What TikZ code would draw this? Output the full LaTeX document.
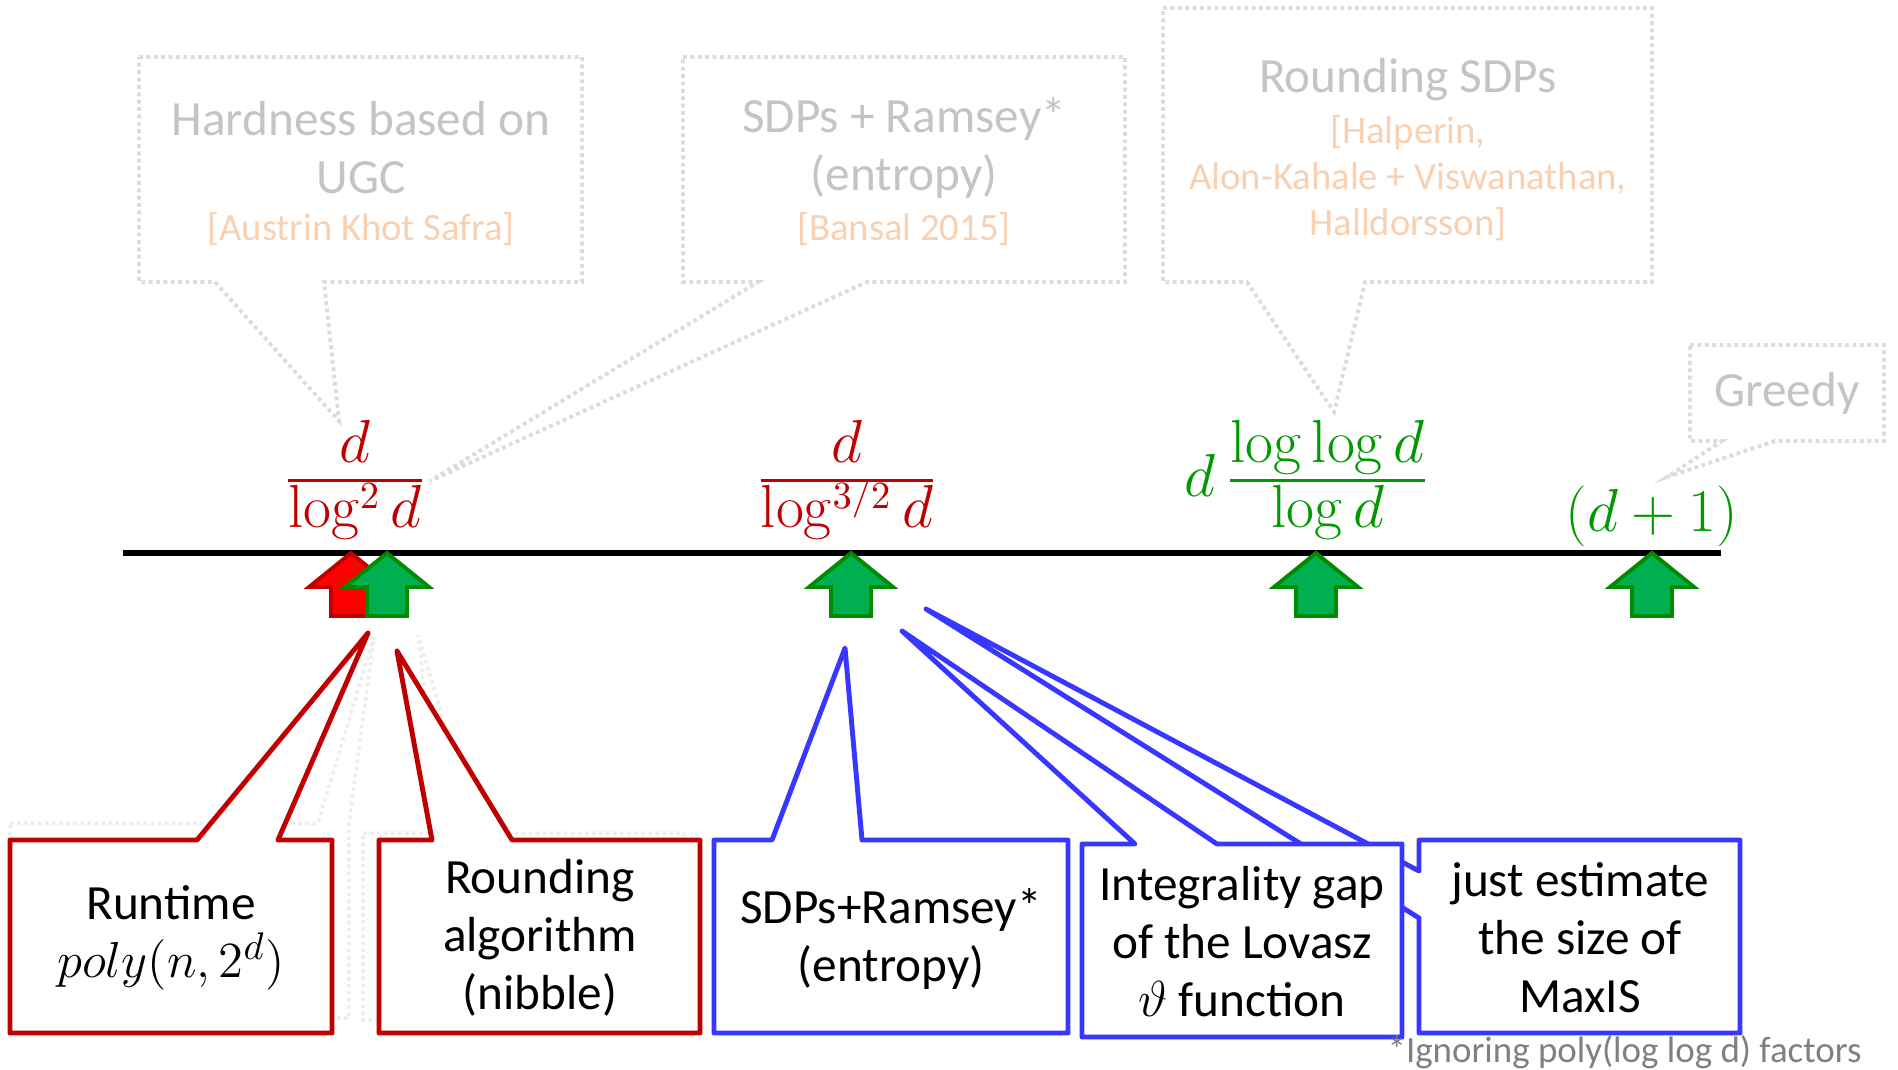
\documentclass[tikz,border=0pt]{standalone}
\usepackage[no-math]{fontspec}
\setmainfont{Carlito}
\usepackage{amsmath}
\usetikzlibrary{positioning}
\definecolor{darkred}{HTML}{C00000}
\definecolor{arrred}{HTML}{FF0000}
\definecolor{arrgreen}{HTML}{00B050}
\definecolor{mathgreen}{HTML}{009A00}
\definecolor{calblue}{HTML}{3737FF}
\definecolor{ghost}{HTML}{C4C4C4}
\definecolor{ghostcite}{HTML}{F8D0B2}
\tikzset{ %line width = 1pt,
  {red callout/.style} ={draw=darkred,fill=white,line width=1.4pt,line join=round},
  {blue callout/.style} ={red callout,draw=calblue},
  {ghost callout/.style} ={draw=ghost!60,densely dotted,line width=1.1pt},
  {faint callout/.style} ={draw=ghost!30,densely dotted,line width=1pt},
  {box text/.style} ={align=center,font=\fontsize{14}{16.5}\selectfont},
  {ghost text/.style} ={box text,text=ghost},
  {bound/.style} ={font=\fontsize{16}{19}\selectfont},
  {red up/.style} ={draw=darkred,fill=arrred,line width=1.1pt},
  {green up/.style} ={draw=mathgreen!90!black,fill=arrgreen,line width=1.1pt},
  timeline/.style ={line width=1.7pt,draw=black},
  pics/uparrow/.style ={code={
    \draw[#1] (0,0) -- (42,34) -- (20,34) -- (20,63) -- (-20,63)
      -- (-20,34) -- (-42,34) -- cycle;}},
  >=latex,
}
\newcommand{\bfrac}[2]{\genfrac{}{}{0.9pt}{1}{\raisebox{2.6pt}{$#1$}}%
  {\raisebox{0.3pt}{$\smash[t]{#2}\vphantom{\log d}$}}}
\newcommand{\lsup}[1]{\raisebox{-2.2pt}{$\scriptstyle #1$}}

\begin{document}
\begin{tikzpicture}[x=0.01cm,y=-0.01cm]
\useasboundingbox (0,0) rectangle (1898,1069);

\tikzstyle{cite} = [text=ghostcite,font=\fontsize{11}{13}\selectfont]

% faded callouts above the line
\draw[ghost callout] (139,57) -- (582,57) -- (582,282) -- (324,282)
  -- (339,421) -- (215,282) -- (139,282) -- cycle;
\node[ghost text] (hardness) at (361,148) {Hardness based on\\UGC};
\node[cite] (hardcite) at (361,229) {[Austrin Khot Safra]};

\draw[ghost callout] (683,57) -- (1125,57) -- (1125,282) -- (867,282)
  -- (430,481) -- (758,282) -- (683,282) -- cycle;
\node[ghost text] (bansal) at (904,148) {SDPs + Ramsey*\\(entropy)};
\node[cite] (bansalcite) at (904,229) {[Bansal 2015]};

\draw[ghost callout] (1163,8) -- (1652,8) -- (1652,282) -- (1365,282)
  -- (1334,412) -- (1247,282) -- (1163,282) -- cycle;
\node[ghost text] (halperin) at (1408,80) {Rounding SDPs};
\node[cite,align=center,below=-3pt of halperin] (halpcite)
  {[Halperin,\\Alon-Kahale + Viswanathan,\\Halldorsson]};

\draw[ghost callout] (1690,345) -- (1884,345) -- (1884,441) -- (1775,441)
  -- (1667,477) -- (1722,441) -- (1690,441) -- cycle;
\node[ghost text] (greedy) at (1787,393) {Greedy};

% faded callouts behind the boxes
\draw[faint callout] (10,823) -- (318,823) -- (374,637) -- (349,823)
  -- (349,1018) -- (10,1018) -- cycle;
\draw[faint callout] (363,833) -- (440,833) -- (418,635) -- (477,833)
  -- (684,833) -- (684,1020) -- (363,1020) -- cycle;

% the line and the bounds
\coordinate (tlw) at (123,553);
\coordinate (tle) at (1721,553);
\draw[timeline] (tlw) -- (tle);

\node[bound,text=darkred,anchor=base] (lbsq) at (355,496) {$\bfrac{d}{\log^{\lsup{2}} d}$};
\node[bound,text=darkred,anchor=base] (lbthree) at (847,496) {$\bfrac{d}{\log^{\lsup{3/2}} d}$};
\node[bound,text=mathgreen,anchor=base] (lbll) at (1307,496) {$d\,\bfrac{\log\log d}{\log d}$};
\node[bound,text=mathgreen] (lbgreedy) at (1652,516) {$(d+1)$};

\coordinate (ptsq) at (351,553);
\coordinate (ptnib) at (387,553);
\coordinate (ptthree) at (851,553);
\coordinate (ptll) at (1316,553);
\coordinate (ptgreedy) at (1652,553);
\pic at (ptsq) {uparrow=red up};
\foreach \p in {ptnib,ptthree,ptll,ptgreedy}
  \pic at (\p) {uparrow=green up};

% callouts below the line
\draw[red callout] (10,840) -- (197,840) -- (368,633) -- (278,840)
  -- (332,840) -- (332,1033) -- (10,1033) -- cycle;
\node[box text] (runtime) at (171,938) {Runtime\\{\fontsize{15}{16.5}\selectfont$poly(n,2^d)$}};

\draw[red callout] (379,840) -- (432,840) -- (397,651) -- (512,840)
  -- (700,840) -- (700,1033) -- (379,1033) -- cycle;
\node[box text] (rounding) at (540,938) {Rounding\\algorithm\\(nibble)};

\draw[blue callout] (714,840) -- (772,840) -- (845,648) -- (862,840)
  -- (1068,840) -- (1068,1033) -- (714,1033) -- cycle;
\node[box text] (sdpram) at (891,939) {SDPs+Ramsey*\\(entropy)};

\draw[blue callout] (1419,840) -- (1740,840) -- (1740,1033) -- (1419,1033)
  -- (1419,918) -- (926,609) -- (1419,871) -- cycle;
\node[box text] (estim) at (1580,938) {just estimate\\the size of\\MaxIS};

\draw[blue callout] (1082,844) -- (1135,844) -- (902,631) -- (1217,844)
  -- (1402,844) -- (1402,1037) -- (1082,1037) -- cycle;
\node[box text] (intgap) at (1242,942) {Integrality gap\\of the Lovasz\\$\vartheta$ function};

\node[anchor=base east,text=gray,font=\fontsize{10.5}{12}\selectfont]
  (note) at (1874,1062) {*Ignoring poly(log log d) factors};
\end{tikzpicture}
\end{document}
